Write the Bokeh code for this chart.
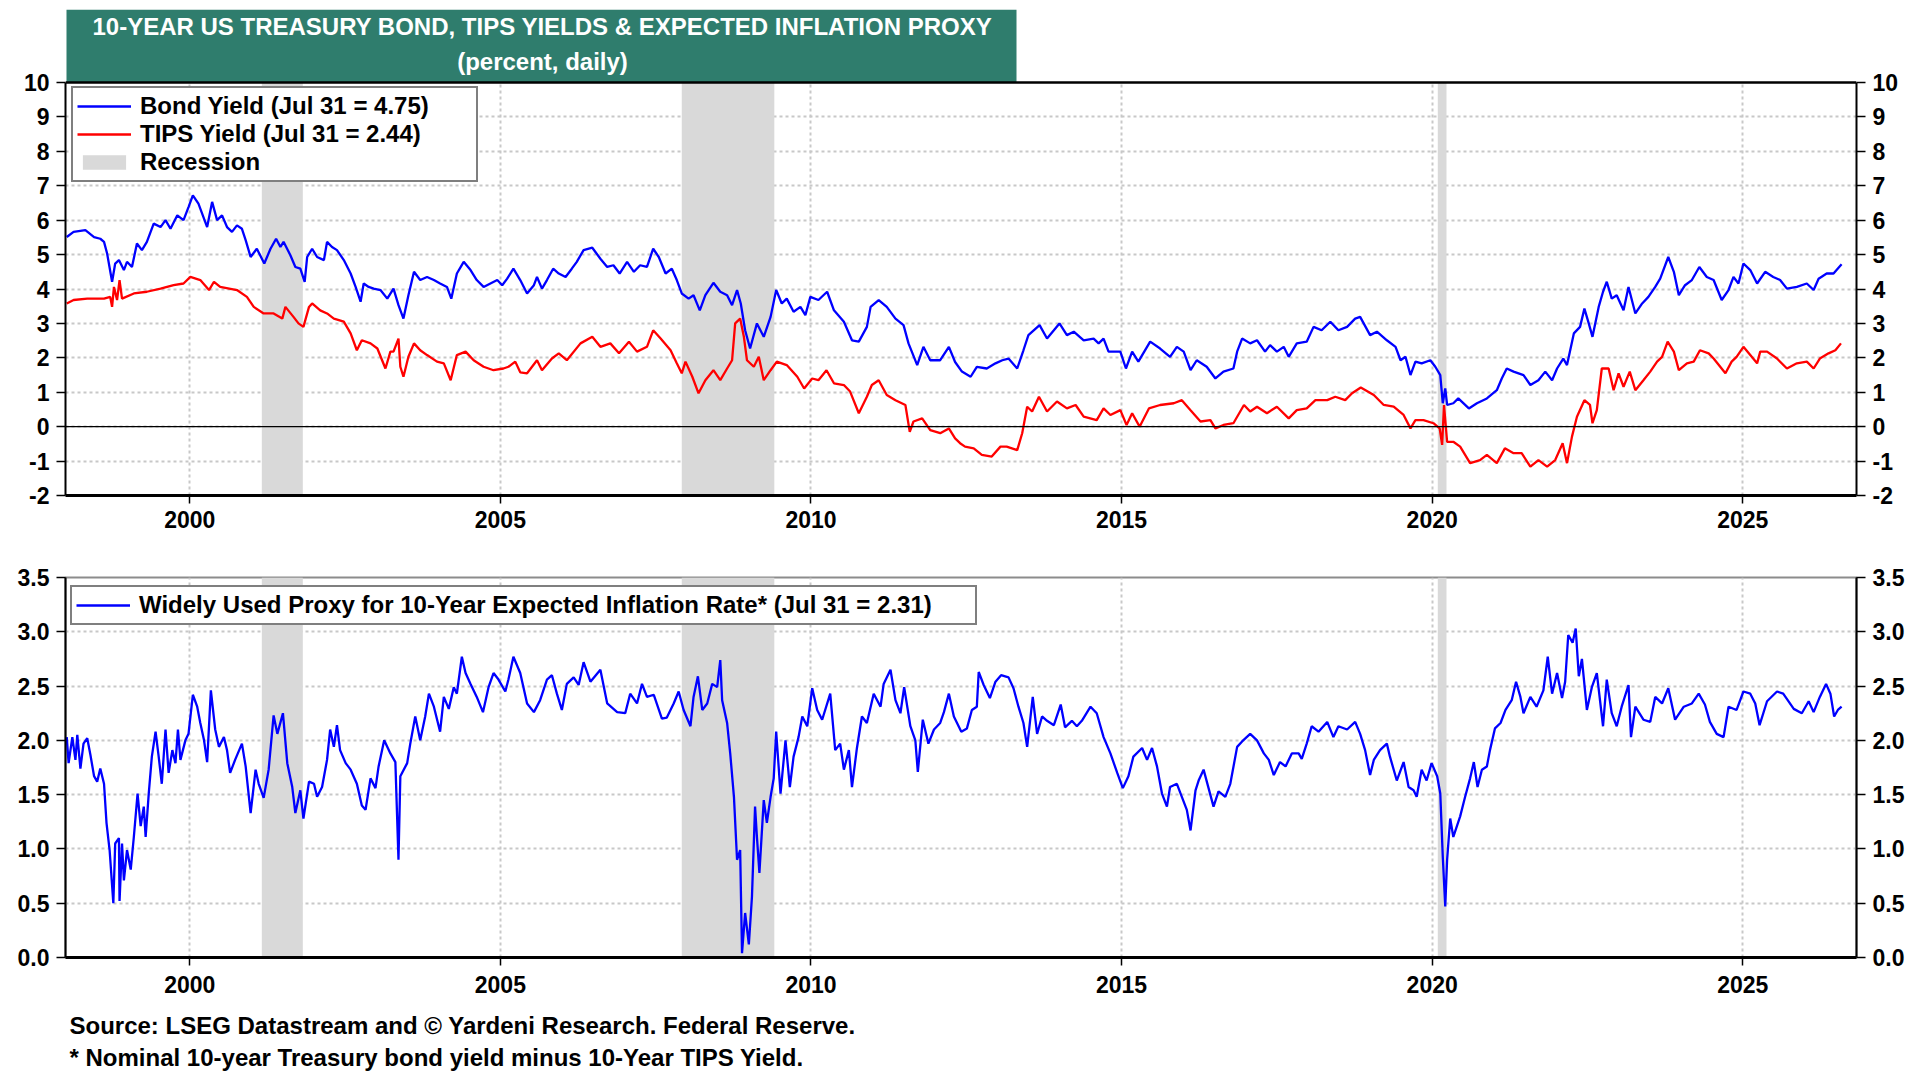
from bokeh.plotting import figure
from bokeh.models import (Range1d, LinearAxis, FixedTicker, NumeralTickFormatter,
                          Legend, LegendItem, Span)
from bokeh.layouts import column
from bokeh.embed import file_html
from bokeh.resources import INLINE
from bokeh.core.properties import value

FONT = "Liberation Sans"

# ---------------- data ----------------
title_lines = ["10-YEAR US TREASURY BOND, TIPS YIELDS & EXPECTED INFLATION PROXY",
               "(percent, daily)"]
bond_label = "Bond Yield (Jul 31 = 4.75)"
tips_label = "TIPS Yield (Jul 31 = 2.44)"
rec_label = "Recession"
proxy_label = "Widely Used Proxy for 10-Year Expected Inflation Rate* (Jul 31 = 2.31)"
footnotes = ["Source: LSEG Datastream and \u00a9 Yardeni Research. Federal Reserve.",
             "* Nominal 10-year Treasury bond yield minus 10-Year TIPS Yield."]

year_ticks = [2000, 2005, 2010, 2015, 2020, 2025]
top_ticks = [-2, -1, 0, 1, 2, 3, 4, 5, 6, 7, 8, 9, 10]
bot_ticks = [0.0, 0.5, 1.0, 1.5, 2.0, 2.5, 3.0, 3.5]

rec_start = [2001.16, 2007.92, 2020.09]
rec_end = [2001.82, 2009.41, 2020.23]

bond_pts = [
    (1998.02, 5.51), (1998.13, 5.66), (1998.32, 5.71), (1998.46, 5.51), (1998.56, 5.46),
    (1998.62, 5.37), (1998.67, 5.03), (1998.75, 4.21), (1998.80, 4.74), (1998.86, 4.84),
    (1998.94, 4.55), (1998.99, 4.79), (1999.07, 4.64), (1999.15, 5.32), (1999.23, 5.13),
    (1999.31, 5.37), (1999.42, 5.90), (1999.53, 5.80), (1999.61, 6.00), (1999.69, 5.75),
    (1999.80, 6.14), (1999.90, 6.00), (1999.98, 6.38), (2000.05, 6.72), (2000.14, 6.48),
    (2000.28, 5.80), (2000.36, 6.53), (2000.44, 6.00), (2000.52, 6.14), (2000.60, 5.80),
    (2000.68, 5.66), (2000.76, 5.85), (2000.84, 5.75), (2000.90, 5.42), (2000.98, 4.93),
    (2001.08, 5.17), (2001.20, 4.74), (2001.30, 5.17), (2001.39, 5.46), (2001.46, 5.22),
    (2001.51, 5.37), (2001.62, 4.98), (2001.70, 4.64), (2001.78, 4.59), (2001.85, 4.21),
    (2001.89, 4.93), (2001.97, 5.17), (2002.05, 4.93), (2002.16, 4.84), (2002.21, 5.37),
    (2002.29, 5.22), (2002.37, 5.13), (2002.48, 4.84), (2002.59, 4.45), (2002.67, 4.06),
    (2002.75, 3.63), (2002.80, 4.16), (2002.88, 4.06), (2002.96, 4.01), (2003.07, 3.97),
    (2003.18, 3.72), (2003.28, 4.01), (2003.36, 3.53), (2003.44, 3.14), (2003.52, 3.82),
    (2003.61, 4.50), (2003.71, 4.26), (2003.82, 4.35), (2003.93, 4.26), (2004.03, 4.16),
    (2004.14, 4.06), (2004.21, 3.72), (2004.30, 4.45), (2004.41, 4.79), (2004.52, 4.55),
    (2004.62, 4.26), (2004.73, 4.06), (2004.84, 4.16), (2004.95, 4.26), (2005.03, 4.11),
    (2005.11, 4.30), (2005.21, 4.59), (2005.32, 4.26), (2005.43, 3.87), (2005.54, 4.11),
    (2005.59, 4.35), (2005.67, 4.01), (2005.75, 4.26), (2005.85, 4.59), (2005.94, 4.45),
    (2006.05, 4.35), (2006.15, 4.59), (2006.23, 4.79), (2006.34, 5.13), (2006.48, 5.20),
    (2006.61, 4.88), (2006.72, 4.64), (2006.82, 4.69), (2006.92, 4.45), (2007.04, 4.79),
    (2007.15, 4.50), (2007.25, 4.69), (2007.36, 4.64), (2007.46, 5.17), (2007.55, 4.93),
    (2007.66, 4.45), (2007.76, 4.59), (2007.84, 4.26), (2007.92, 3.87), (2008.03, 3.72),
    (2008.11, 3.82), (2008.21, 3.38), (2008.30, 3.82), (2008.43, 4.18), (2008.54, 3.92),
    (2008.65, 3.82), (2008.73, 3.53), (2008.81, 3.97), (2008.87, 3.58), (2008.94, 2.80),
    (2009.02, 2.27), (2009.13, 3.00), (2009.24, 2.61), (2009.35, 3.19), (2009.44, 3.97),
    (2009.53, 3.58), (2009.61, 3.72), (2009.72, 3.34), (2009.83, 3.48), (2009.91, 3.24),
    (2009.99, 3.77), (2010.12, 3.68), (2010.26, 3.92), (2010.37, 3.38), (2010.53, 3.05),
    (2010.66, 2.51), (2010.77, 2.47), (2010.90, 2.90), (2010.96, 3.48), (2011.09, 3.68),
    (2011.22, 3.48), (2011.36, 3.14), (2011.49, 2.95), (2011.57, 2.42), (2011.71, 1.79),
    (2011.81, 2.32), (2011.92, 1.93), (2012.08, 1.93), (2012.22, 2.32), (2012.32, 1.88),
    (2012.43, 1.60), (2012.57, 1.45), (2012.67, 1.74), (2012.83, 1.69), (2012.97, 1.84),
    (2013.08, 1.93), (2013.18, 1.98), (2013.32, 1.69), (2013.42, 2.22), (2013.50, 2.66),
    (2013.68, 2.95), (2013.80, 2.56), (2013.91, 2.80), (2014.00, 3.00), (2014.12, 2.66),
    (2014.23, 2.76), (2014.39, 2.51), (2014.55, 2.56), (2014.63, 2.42), (2014.71, 2.56),
    (2014.79, 2.18), (2014.98, 2.18), (2015.07, 1.69), (2015.17, 2.18), (2015.27, 1.89),
    (2015.46, 2.47), (2015.62, 2.27), (2015.78, 2.03), (2015.89, 2.32), (2016.00, 2.18),
    (2016.11, 1.64), (2016.21, 1.93), (2016.37, 1.74), (2016.51, 1.40), (2016.64, 1.60),
    (2016.80, 1.69), (2016.86, 2.18), (2016.94, 2.56), (2017.07, 2.42), (2017.18, 2.51),
    (2017.31, 2.18), (2017.39, 2.37), (2017.50, 2.18), (2017.61, 2.32), (2017.69, 2.03),
    (2017.82, 2.42), (2017.98, 2.47), (2018.09, 2.90), (2018.22, 2.80), (2018.36, 3.05),
    (2018.49, 2.80), (2018.63, 2.90), (2018.76, 3.14), (2018.84, 3.19), (2019.00, 2.66),
    (2019.11, 2.76), (2019.27, 2.51), (2019.41, 2.32), (2019.49, 1.93), (2019.57, 2.03),
    (2019.65, 1.50), (2019.73, 1.89), (2019.83, 1.84), (2019.97, 1.93), (2020.05, 1.74),
    (2020.13, 1.50), (2020.17, 0.68), (2020.21, 1.11), (2020.24, 0.63), (2020.34, 0.68),
    (2020.42, 0.82), (2020.59, 0.53), (2020.72, 0.68), (2020.88, 0.82), (2021.04, 1.06),
    (2021.12, 1.40), (2021.20, 1.69), (2021.31, 1.60), (2021.47, 1.50), (2021.58, 1.21),
    (2021.71, 1.35), (2021.82, 1.60), (2021.93, 1.35), (2022.01, 1.69), (2022.11, 1.98),
    (2022.17, 1.79), (2022.28, 2.71), (2022.38, 2.90), (2022.45, 3.43), (2022.52, 3.00),
    (2022.58, 2.61), (2022.68, 3.48), (2022.75, 3.92), (2022.81, 4.21), (2022.89, 3.72),
    (2022.97, 3.82), (2023.08, 3.38), (2023.16, 4.06), (2023.27, 3.29), (2023.38, 3.58),
    (2023.48, 3.77), (2023.59, 4.06), (2023.67, 4.30), (2023.80, 4.93), (2023.89, 4.50),
    (2023.97, 3.82), (2024.07, 4.11), (2024.18, 4.26), (2024.30, 4.64), (2024.42, 4.35),
    (2024.53, 4.26), (2024.66, 3.68), (2024.77, 3.97), (2024.85, 4.35), (2024.93, 4.16),
    (2025.01, 4.74), (2025.12, 4.55), (2025.23, 4.16), (2025.36, 4.50), (2025.49, 4.35),
    (2025.60, 4.26), (2025.71, 4.01), (2025.87, 4.06), (2026.03, 4.16), (2026.14, 3.97),
    (2026.22, 4.30), (2026.35, 4.45), (2026.46, 4.45), (2026.59, 4.72),
]

tips_pts = [
    (1998.02, 3.58), (1998.13, 3.68), (1998.35, 3.72), (1998.62, 3.72), (1998.72, 3.77),
    (1998.75, 3.48), (1998.78, 4.06), (1998.83, 3.68), (1998.87, 4.26), (1998.91, 3.72),
    (1999.10, 3.87), (1999.31, 3.92), (1999.53, 4.01), (1999.74, 4.11), (1999.90, 4.16),
    (2000.01, 4.35), (2000.17, 4.26), (2000.31, 3.97), (2000.39, 4.21), (2000.49, 4.06),
    (2000.76, 3.97), (2000.92, 3.77), (2001.03, 3.48), (2001.19, 3.29), (2001.35, 3.29),
    (2001.49, 3.14), (2001.54, 3.48), (2001.67, 3.19), (2001.75, 3.00), (2001.83, 2.90),
    (2001.92, 3.48), (2001.97, 3.58), (2002.10, 3.38), (2002.21, 3.29), (2002.32, 3.14),
    (2002.48, 3.05), (2002.59, 2.71), (2002.69, 2.22), (2002.77, 2.51), (2002.91, 2.42),
    (2003.02, 2.27), (2003.15, 1.69), (2003.23, 2.18), (2003.28, 2.18), (2003.36, 2.56),
    (2003.39, 1.74), (2003.44, 1.45), (2003.52, 2.03), (2003.61, 2.42), (2003.71, 2.22),
    (2003.82, 2.08), (2003.98, 1.89), (2004.09, 1.84), (2004.20, 1.35), (2004.30, 2.08),
    (2004.44, 2.18), (2004.57, 1.93), (2004.73, 1.74), (2004.89, 1.64), (2005.05, 1.69),
    (2005.13, 1.74), (2005.24, 1.89), (2005.32, 1.58), (2005.43, 1.55), (2005.59, 1.93),
    (2005.67, 1.64), (2005.83, 1.98), (2005.94, 2.13), (2006.07, 1.93), (2006.29, 2.42),
    (2006.48, 2.61), (2006.61, 2.32), (2006.77, 2.42), (2006.91, 2.13), (2007.07, 2.47),
    (2007.20, 2.18), (2007.36, 2.32), (2007.46, 2.80), (2007.58, 2.56), (2007.74, 2.22),
    (2007.84, 1.84), (2007.92, 1.55), (2007.98, 1.89), (2008.09, 1.45), (2008.19, 0.97),
    (2008.30, 1.35), (2008.43, 1.64), (2008.54, 1.35), (2008.65, 1.69), (2008.73, 1.93),
    (2008.78, 3.00), (2008.86, 3.14), (2008.92, 2.61), (2008.97, 1.93), (2009.08, 1.74),
    (2009.16, 2.03), (2009.24, 1.35), (2009.35, 1.64), (2009.45, 1.89), (2009.61, 1.79),
    (2009.78, 1.45), (2009.89, 1.11), (2010.02, 1.40), (2010.12, 1.35), (2010.25, 1.64),
    (2010.37, 1.26), (2010.53, 1.21), (2010.63, 1.02), (2010.77, 0.39), (2010.90, 0.87),
    (2010.98, 1.21), (2011.09, 1.35), (2011.22, 0.92), (2011.36, 0.77), (2011.52, 0.63),
    (2011.59, -0.15), (2011.65, 0.15), (2011.79, 0.24), (2011.92, -0.10), (2012.08, -0.19),
    (2012.22, -0.05), (2012.32, -0.34), (2012.40, -0.48), (2012.48, -0.58), (2012.62, -0.63),
    (2012.75, -0.82), (2012.91, -0.87), (2013.05, -0.58), (2013.15, -0.58), (2013.32, -0.68),
    (2013.40, -0.19), (2013.48, 0.58), (2013.56, 0.44), (2013.67, 0.87), (2013.80, 0.44),
    (2013.96, 0.73), (2014.12, 0.53), (2014.26, 0.63), (2014.39, 0.29), (2014.60, 0.19),
    (2014.71, 0.53), (2014.82, 0.34), (2014.98, 0.48), (2015.08, 0.05), (2015.17, 0.39),
    (2015.29, 0.00), (2015.44, 0.53), (2015.62, 0.63), (2015.84, 0.68), (2015.97, 0.77),
    (2016.11, 0.48), (2016.27, 0.15), (2016.43, 0.19), (2016.51, -0.05), (2016.64, 0.05),
    (2016.80, 0.10), (2016.97, 0.63), (2017.07, 0.44), (2017.18, 0.58), (2017.34, 0.39),
    (2017.50, 0.58), (2017.69, 0.24), (2017.82, 0.48), (2017.98, 0.53), (2018.12, 0.77),
    (2018.31, 0.77), (2018.44, 0.87), (2018.60, 0.77), (2018.71, 0.97), (2018.85, 1.14),
    (2019.06, 0.92), (2019.22, 0.63), (2019.38, 0.58), (2019.54, 0.34), (2019.65, -0.05),
    (2019.73, 0.19), (2019.86, 0.19), (2020.02, 0.10), (2020.12, -0.05), (2020.16, -0.53),
    (2020.19, 0.63), (2020.24, -0.44), (2020.34, -0.44), (2020.45, -0.58), (2020.61, -1.06),
    (2020.77, -0.97), (2020.88, -0.82), (2021.04, -1.06), (2021.17, -0.63), (2021.31, -0.77),
    (2021.44, -0.77), (2021.58, -1.16), (2021.71, -0.97), (2021.85, -1.16), (2021.98, -0.97),
    (2022.10, -0.48), (2022.17, -1.06), (2022.25, -0.29), (2022.33, 0.29), (2022.45, 0.77),
    (2022.54, 0.63), (2022.58, 0.10), (2022.65, 0.48), (2022.73, 1.69), (2022.84, 1.69),
    (2022.92, 1.06), (2023.00, 1.55), (2023.08, 1.16), (2023.18, 1.60), (2023.27, 1.06),
    (2023.40, 1.35), (2023.51, 1.60), (2023.62, 1.89), (2023.70, 2.03), (2023.79, 2.47),
    (2023.89, 2.18), (2023.97, 1.64), (2024.10, 1.84), (2024.21, 1.89), (2024.31, 2.22),
    (2024.45, 2.13), (2024.53, 1.98), (2024.72, 1.55), (2024.82, 1.89), (2024.90, 2.03),
    (2025.01, 2.32), (2025.12, 2.08), (2025.23, 1.84), (2025.28, 2.18), (2025.39, 2.18),
    (2025.55, 1.98), (2025.71, 1.69), (2025.87, 1.84), (2026.03, 1.89), (2026.14, 1.69),
    (2026.24, 1.98), (2026.38, 2.13), (2026.49, 2.22), (2026.58, 2.42),
]

proxy_pts = [
    (1998.02, 2.03), (1998.05, 1.79), (1998.11, 2.03), (1998.16, 1.82), (1998.19, 2.05),
    (1998.24, 1.74), (1998.29, 1.97), (1998.35, 2.02), (1998.40, 1.87), (1998.46, 1.67),
    (1998.51, 1.62), (1998.56, 1.74), (1998.62, 1.60), (1998.66, 1.24), (1998.71, 0.99),
    (1998.77, 0.50), (1998.80, 1.05), (1998.86, 1.10), (1998.87, 0.52), (1998.91, 1.05),
    (1998.94, 0.71), (1998.99, 0.99), (1999.05, 0.81), (1999.10, 1.11), (1999.16, 1.51),
    (1999.21, 1.21), (1999.26, 1.39), (1999.29, 1.11), (1999.34, 1.51), (1999.39, 1.85),
    (1999.45, 2.08), (1999.50, 1.85), (1999.55, 1.60), (1999.61, 2.10), (1999.66, 1.70),
    (1999.72, 1.91), (1999.77, 1.79), (1999.81, 2.10), (1999.85, 1.82), (1999.93, 2.00),
    (1999.98, 2.06), (2000.05, 2.42), (2000.12, 2.31), (2000.17, 2.16), (2000.23, 2.00),
    (2000.28, 1.80), (2000.34, 2.46), (2000.41, 2.10), (2000.47, 1.94), (2000.55, 2.03),
    (2000.60, 1.91), (2000.65, 1.70), (2000.73, 1.82), (2000.84, 1.97), (2000.90, 1.76),
    (2000.98, 1.33), (2001.06, 1.73), (2001.11, 1.60), (2001.19, 1.47), (2001.27, 1.73),
    (2001.35, 2.23), (2001.41, 2.06), (2001.50, 2.25), (2001.57, 1.79), (2001.65, 1.57),
    (2001.70, 1.33), (2001.78, 1.54), (2001.83, 1.28), (2001.92, 1.62), (2002.00, 1.60),
    (2002.05, 1.48), (2002.13, 1.57), (2002.21, 1.82), (2002.26, 2.10), (2002.32, 1.94),
    (2002.37, 2.14), (2002.42, 1.91), (2002.51, 1.79), (2002.59, 1.73), (2002.69, 1.60),
    (2002.77, 1.40), (2002.83, 1.36), (2002.91, 1.65), (2002.99, 1.56), (2003.04, 1.76),
    (2003.13, 2.00), (2003.23, 1.88), (2003.31, 1.80), (2003.36, 0.90), (2003.39, 1.67),
    (2003.50, 1.79), (2003.55, 1.97), (2003.63, 2.22), (2003.71, 2.00), (2003.79, 2.22),
    (2003.85, 2.43), (2003.93, 2.31), (2004.03, 2.08), (2004.09, 2.40), (2004.17, 2.29),
    (2004.25, 2.49), (2004.30, 2.43), (2004.38, 2.77), (2004.44, 2.62), (2004.52, 2.52),
    (2004.62, 2.40), (2004.72, 2.26), (2004.81, 2.49), (2004.89, 2.62), (2004.97, 2.56),
    (2005.08, 2.45), (2005.13, 2.56), (2005.21, 2.77), (2005.32, 2.62), (2005.43, 2.34),
    (2005.54, 2.26), (2005.64, 2.37), (2005.75, 2.56), (2005.83, 2.60), (2005.91, 2.43),
    (2005.99, 2.28), (2006.07, 2.52), (2006.18, 2.58), (2006.26, 2.51), (2006.34, 2.72),
    (2006.45, 2.54), (2006.61, 2.65), (2006.72, 2.34), (2006.88, 2.26), (2007.01, 2.25),
    (2007.09, 2.43), (2007.20, 2.34), (2007.28, 2.52), (2007.36, 2.40), (2007.47, 2.42),
    (2007.60, 2.20), (2007.68, 2.21), (2007.79, 2.34), (2007.87, 2.45), (2007.95, 2.28),
    (2008.06, 2.13), (2008.11, 2.40), (2008.18, 2.59), (2008.25, 2.28), (2008.33, 2.34),
    (2008.41, 2.52), (2008.49, 2.49), (2008.54, 2.74), (2008.57, 2.37), (2008.65, 2.16),
    (2008.70, 1.88), (2008.76, 1.48), (2008.81, 0.90), (2008.86, 0.99), (2008.89, 0.04),
    (2008.94, 0.41), (2009.00, 0.12), (2009.05, 0.56), (2009.10, 1.39), (2009.13, 1.11),
    (2009.17, 0.78), (2009.24, 1.45), (2009.29, 1.24), (2009.35, 1.48), (2009.40, 1.65),
    (2009.44, 2.08), (2009.51, 1.51), (2009.59, 2.00), (2009.66, 1.57), (2009.72, 1.85),
    (2009.80, 2.03), (2009.86, 2.22), (2009.94, 2.13), (2010.02, 2.48), (2010.10, 2.28),
    (2010.18, 2.19), (2010.31, 2.43), (2010.39, 1.91), (2010.47, 1.97), (2010.53, 1.73),
    (2010.61, 1.91), (2010.66, 1.57), (2010.74, 1.93), (2010.82, 2.22), (2010.90, 2.16),
    (2011.01, 2.43), (2011.12, 2.31), (2011.17, 2.52), (2011.28, 2.65), (2011.36, 2.37),
    (2011.44, 2.25), (2011.50, 2.49), (2011.60, 2.13), (2011.68, 2.00), (2011.72, 1.71),
    (2011.80, 2.19), (2011.89, 1.97), (2011.98, 2.10), (2012.08, 2.16), (2012.14, 2.26),
    (2012.22, 2.43), (2012.30, 2.22), (2012.42, 2.08), (2012.51, 2.11), (2012.59, 2.28),
    (2012.67, 2.31), (2012.70, 2.63), (2012.78, 2.51), (2012.88, 2.39), (2012.97, 2.54),
    (2013.06, 2.60), (2013.18, 2.58), (2013.26, 2.48), (2013.34, 2.31), (2013.42, 2.16),
    (2013.48, 1.94), (2013.57, 2.40), (2013.64, 2.06), (2013.72, 2.22), (2013.80, 2.18),
    (2013.91, 2.14), (2014.02, 2.33), (2014.09, 2.12), (2014.20, 2.18), (2014.28, 2.13),
    (2014.36, 2.18), (2014.50, 2.31), (2014.60, 2.25), (2014.71, 2.03), (2014.82, 1.88),
    (2014.93, 1.70), (2015.02, 1.56), (2015.11, 1.67), (2015.19, 1.85), (2015.33, 1.93),
    (2015.41, 1.82), (2015.49, 1.93), (2015.57, 1.76), (2015.65, 1.51), (2015.73, 1.39),
    (2015.78, 1.57), (2015.89, 1.60), (2015.97, 1.48), (2016.05, 1.36), (2016.11, 1.17),
    (2016.19, 1.54), (2016.24, 1.63), (2016.32, 1.73), (2016.40, 1.56), (2016.48, 1.39),
    (2016.56, 1.53), (2016.67, 1.48), (2016.75, 1.60), (2016.86, 1.94), (2016.94, 1.99),
    (2017.07, 2.06), (2017.18, 2.00), (2017.29, 1.88), (2017.37, 1.82), (2017.45, 1.68),
    (2017.55, 1.80), (2017.64, 1.76), (2017.74, 1.88), (2017.85, 1.88), (2017.90, 1.83),
    (2017.98, 1.97), (2018.06, 2.13), (2018.17, 2.08), (2018.31, 2.17), (2018.41, 2.03),
    (2018.49, 2.13), (2018.63, 2.10), (2018.76, 2.17), (2018.84, 2.06), (2018.92, 1.91),
    (2019.00, 1.68), (2019.06, 1.82), (2019.16, 1.91), (2019.27, 1.97), (2019.32, 1.85),
    (2019.43, 1.63), (2019.54, 1.80), (2019.62, 1.57), (2019.70, 1.54), (2019.75, 1.48),
    (2019.83, 1.73), (2019.91, 1.63), (2019.99, 1.79), (2020.08, 1.67), (2020.13, 1.51),
    (2020.17, 0.93), (2020.21, 0.47), (2020.24, 0.90), (2020.29, 1.28), (2020.34, 1.11),
    (2020.45, 1.30), (2020.53, 1.48), (2020.61, 1.65), (2020.67, 1.80), (2020.73, 1.57),
    (2020.80, 1.73), (2020.88, 1.76), (2020.93, 1.91), (2021.01, 2.11), (2021.10, 2.16),
    (2021.18, 2.28), (2021.28, 2.37), (2021.35, 2.54), (2021.42, 2.40), (2021.47, 2.25),
    (2021.58, 2.40), (2021.68, 2.31), (2021.79, 2.46), (2021.86, 2.77), (2021.93, 2.43),
    (2022.01, 2.62), (2022.09, 2.39), (2022.14, 2.54), (2022.19, 2.97), (2022.26, 2.90),
    (2022.31, 3.03), (2022.36, 2.59), (2022.41, 2.75), (2022.49, 2.28), (2022.57, 2.49),
    (2022.65, 2.62), (2022.75, 2.13), (2022.81, 2.56), (2022.89, 2.25), (2022.97, 2.13),
    (2023.05, 2.31), (2023.16, 2.51), (2023.20, 2.03), (2023.27, 2.31), (2023.40, 2.19),
    (2023.51, 2.17), (2023.59, 2.40), (2023.70, 2.34), (2023.80, 2.48), (2023.91, 2.19),
    (2024.05, 2.31), (2024.18, 2.34), (2024.29, 2.43), (2024.39, 2.33), (2024.47, 2.17),
    (2024.58, 2.06), (2024.69, 2.03), (2024.77, 2.31), (2024.90, 2.28), (2025.01, 2.45),
    (2025.12, 2.43), (2025.20, 2.34), (2025.27, 2.14), (2025.39, 2.36), (2025.55, 2.45),
    (2025.65, 2.43), (2025.82, 2.29), (2025.95, 2.25), (2026.06, 2.36), (2026.14, 2.26),
    (2026.24, 2.40), (2026.34, 2.52), (2026.41, 2.43), (2026.47, 2.22), (2026.53, 2.28),
    (2026.59, 2.31),
]

bond_year = [p[0] for p in bond_pts]
bond_yield = [p[1] for p in bond_pts]
tips_year = [p[0] for p in tips_pts]
tips_yield = [p[1] for p in tips_pts]
proxy_year = [p[0] for p in proxy_pts]
proxy_rate = [p[1] for p in proxy_pts]

# ---------------- layout ----------------
FL, FR, FW = 65, 64, 1791          # frame from x=65 to x=1856
X0, X1 = 1998.0, 2026.83
PXY = FW / (X1 - X0)               # pixels per year
TOP_MIN, TOP_MAX = -2, 10
TOP_PX = 413 / (TOP_MAX - TOP_MIN) # pixels per unit in the top panel
TITLE_PX = 73                      # height of the title strip above the top panel
Y_TOP_EXT = TOP_MAX + TITLE_PX / TOP_PX

BLUE, RED = "#0000ff", "#ff0000"
TEAL = "#2f7d6d"
REC = "#d9d9d9"
GRID = "#c8c8c8"
LW = 2.3


def chart(y_rng, yticks, gticks, fmt, fh, top_b, bot_b, outline, bounds, xstand):
    p = figure(frame_width=FW, frame_height=fh,
               x_range=Range1d(X0, X1), y_range=Range1d(*y_rng),
               min_border_left=FL, min_border_right=FR,
               min_border_top=top_b, min_border_bottom=bot_b,
               toolbar_location=None, output_backend="svg",
               background_fill_color="white", border_fill_color="white",
               outline_line_color=outline, outline_line_width=2)
    p.add_layout(LinearAxis(), "right")
    for ax in p.xaxis:
        ax.ticker = FixedTicker(ticks=year_ticks)
        ax.formatter = NumeralTickFormatter(format="0")
        ax.axis_line_width = 3
        ax.major_label_standoff = xstand
        ax.major_label_text_font_size = "23px"
        ax.major_tick_out = 8
    for ax in p.yaxis:
        ax.ticker = FixedTicker(ticks=yticks)
        ax.formatter = NumeralTickFormatter(format=fmt)
        ax.bounds = bounds
        ax.axis_line_width = 2
        ax.major_label_standoff = 7
        ax.major_label_text_font_size = "23px"
        ax.major_tick_out = 9
    for ax in list(p.xaxis) + list(p.yaxis):
        ax.axis_line_color = "black"
        ax.major_tick_in = 0
        ax.major_tick_line_color = "black"
        ax.major_tick_line_width = 1.5
        ax.minor_tick_line_color = None
        ax.major_label_text_font = FONT
        ax.major_label_text_font_style = "bold"
        ax.major_label_text_color = "black"
    p.xgrid.ticker = FixedTicker(ticks=year_ticks)
    p.xgrid.cross_bounds = bounds
    p.ygrid.ticker = FixedTicker(ticks=gticks)
    p.grid.grid_line_color = GRID
    p.grid.grid_line_dash = "3 3"
    p.grid.grid_line_width = 2
    return p


def style_legend(leg, lw):
    leg.label_text_font = FONT
    leg.label_text_font_size = "24px"
    leg.label_text_font_style = "bold"
    leg.label_text_color = "black"
    leg.label_standoff = 9
    leg.label_width = lw
    leg.glyph_width = 54
    leg.glyph_height = 18
    leg.label_height = 24
    leg.spacing = 0
    leg.padding = 4
    leg.margin = 0
    leg.border_line_color = "black"
    leg.border_line_width = 2.5
    leg.background_fill_color = "white"
    leg.background_fill_alpha = 1.0


# top chart, with the title strip above the value range
p1 = chart((TOP_MIN, Y_TOP_EXT), top_ticks, [t for t in top_ticks if TOP_MIN < t < TOP_MAX],
           "0", 413 + TITLE_PX, 9, 48, None, (TOP_MIN, TOP_MAX), 7)
p1.quad(left=[X0 + 1 / PXY], right=[X0 + 951 / PXY], bottom=[TOP_MAX], top=[Y_TOP_EXT],
        fill_color=TEAL, line_color=None)
p1.text(x=[X0 + 477 / PXY] * 2,
        y=[TOP_MAX + 56 / TOP_PX, TOP_MAX + 21 / TOP_PX],
        text=title_lines, text_font=value(FONT), text_font_size="24px",
        text_font_style="bold", text_color="white",
        text_align="center", text_baseline="middle")
r_rec = p1.quad(left=rec_start, right=rec_end, bottom=TOP_MIN, top=TOP_MAX,
                fill_color=REC, line_color=None)
p1.add_layout(Span(location=0, dimension="width", line_color="black", line_width=1.2))
p1.add_layout(Span(location=TOP_MAX, dimension="width", line_color="black", line_width=2.5))
r_t = p1.line(tips_year, tips_yield, line_color=RED, line_width=LW)
r_b = p1.line(bond_year, bond_yield, line_color=BLUE, line_width=LW)
leg1 = Legend(items=[LegendItem(label=bond_label, renderers=[r_b]),
                     LegendItem(label=tips_label, renderers=[r_t]),
                     LegendItem(label=rec_label, renderers=[r_rec])],
              location=(6, 313))
style_legend(leg1, 332)
p1.add_layout(leg1)

# bottom chart
p2 = chart((0, 3.5), bot_ticks, [t for t in bot_ticks if 0 < t < 3.5], "0.0",
           380, 34, 51, "#8c8c8c", (0, 3.5), 10)
p2.quad(left=rec_start, right=rec_end, bottom=0, top=3.5, fill_color=REC, line_color=None)
r_p = p2.line(proxy_year, proxy_rate, line_color=BLUE, line_width=LW)
leg2 = Legend(items=[LegendItem(label=proxy_label, renderers=[r_p])], location=(5, 332))
style_legend(leg2, 832)
p2.add_layout(leg2)

# footnotes
pf = figure(frame_width=FW, frame_height=71, x_range=Range1d(0, FW), y_range=Range1d(0, 71),
            min_border_left=FL, min_border_right=FR, min_border_top=0, min_border_bottom=0,
            toolbar_location=None, output_backend="svg",
            x_axis_type=None, y_axis_type=None, outline_line_color=None)
pf.text(x=[4, 4], y=[54, 22], text=footnotes, text_font=value(FONT),
        text_font_size="24px", text_font_style="bold", text_color="black",
        text_align="left", text_baseline="middle")

layout = column(p1, p2, pf)
open("out.html", "w").write(file_html(layout, INLINE))
